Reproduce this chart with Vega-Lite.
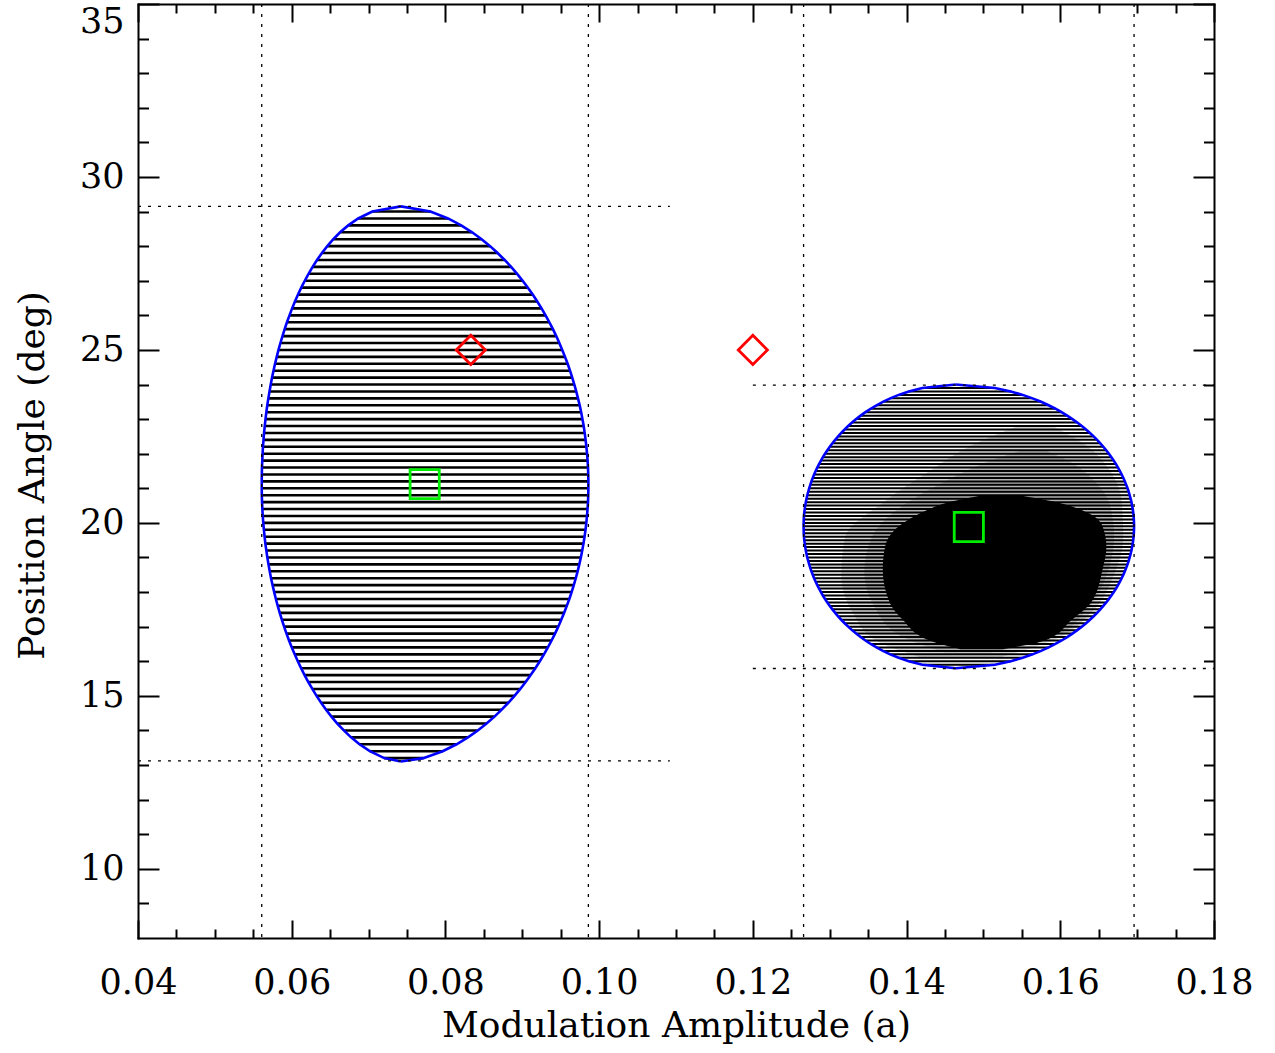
{
  "$schema": "https://vega.github.io/schema/vega-lite/v6.json",
  "width": 1076,
  "height": 934,
  "autosize": {"type": "none"},
  "padding": {"left": 138, "top": 4, "right": 61, "bottom": 115},
  "background": "white",
  "config": {
    "view": {"stroke": null},
    "axis": {
      "grid": false,
      "labelFont": "DejaVu Serif",
      "titleFont": "DejaVu Serif",
      "labelColor": "black",
      "titleColor": "black",
      "tickColor": "black",
      "domainColor": "black",
      "tickWidth": 2,
      "domainWidth": 2,
      "labelFontSize": 35,
      "titleFontSize": 36,
      "titleFontWeight": "normal",
      "labelOverlap": false
    }
  },
  "datasets": {
    "h": [
      {"e":1,"y":13.1,"xl":0.0742,"xr":0.0742},
      {"e":1,"y":13.2,"xl":0.07204,"xr":0.07712},
      {"e":1,"y":13.4,"xl":0.07016,"xr":0.07964},
      {"e":1,"y":13.6,"xl":0.06882,"xr":0.08145},
      {"e":1,"y":13.8,"xl":0.06772,"xr":0.08293},
      {"e":1,"y":14.0,"xl":0.06678,"xr":0.08421},
      {"e":1,"y":14.2,"xl":0.06593,"xr":0.08535},
      {"e":1,"y":14.4,"xl":0.06517,"xr":0.08638},
      {"e":1,"y":14.6,"xl":0.06447,"xr":0.08732},
      {"e":1,"y":14.8,"xl":0.06383,"xr":0.08818},
      {"e":1,"y":15.0,"xl":0.06323,"xr":0.08899},
      {"e":1,"y":15.2,"xl":0.06268,"xr":0.08974},
      {"e":1,"y":15.4,"xl":0.06216,"xr":0.09044},
      {"e":1,"y":15.6,"xl":0.06167,"xr":0.09109},
      {"e":1,"y":15.8,"xl":0.06122,"xr":0.0917},
      {"e":1,"y":16.0,"xl":0.06079,"xr":0.09228},
      {"e":1,"y":16.2,"xl":0.06039,"xr":0.09282},
      {"e":1,"y":16.4,"xl":0.06001,"xr":0.09333},
      {"e":1,"y":16.6,"xl":0.05965,"xr":0.09381},
      {"e":1,"y":16.8,"xl":0.05932,"xr":0.09426},
      {"e":1,"y":17.0,"xl":0.05901,"xr":0.09468},
      {"e":1,"y":17.2,"xl":0.05872,"xr":0.09507},
      {"e":1,"y":17.4,"xl":0.05844,"xr":0.09545},
      {"e":1,"y":17.6,"xl":0.05818,"xr":0.09579},
      {"e":1,"y":17.8,"xl":0.05794,"xr":0.09612},
      {"e":1,"y":18.0,"xl":0.05772,"xr":0.09642},
      {"e":1,"y":18.2,"xl":0.05751,"xr":0.0967},
      {"e":1,"y":18.4,"xl":0.05731,"xr":0.09696},
      {"e":1,"y":18.6,"xl":0.05714,"xr":0.0972},
      {"e":1,"y":18.8,"xl":0.05698,"xr":0.09742},
      {"e":1,"y":19.0,"xl":0.05683,"xr":0.09762},
      {"e":1,"y":19.2,"xl":0.0567,"xr":0.0978},
      {"e":1,"y":19.4,"xl":0.05657,"xr":0.09796},
      {"e":1,"y":19.6,"xl":0.05647,"xr":0.0981},
      {"e":1,"y":19.8,"xl":0.05638,"xr":0.09823},
      {"e":1,"y":20.0,"xl":0.0563,"xr":0.09833},
      {"e":1,"y":20.2,"xl":0.05623,"xr":0.09842},
      {"e":1,"y":20.4,"xl":0.05618,"xr":0.09849},
      {"e":1,"y":20.6,"xl":0.05614,"xr":0.09855},
      {"e":1,"y":20.8,"xl":0.05611,"xr":0.09858},
      {"e":1,"y":21.0,"xl":0.0561,"xr":0.0986},
      {"e":1,"y":21.2,"xl":0.0561,"xr":0.0986},
      {"e":1,"y":21.4,"xl":0.05611,"xr":0.09858},
      {"e":1,"y":21.6,"xl":0.05613,"xr":0.09855},
      {"e":1,"y":21.8,"xl":0.05617,"xr":0.0985},
      {"e":1,"y":22.0,"xl":0.05621,"xr":0.09843},
      {"e":1,"y":22.2,"xl":0.05626,"xr":0.09834},
      {"e":1,"y":22.4,"xl":0.05633,"xr":0.09824},
      {"e":1,"y":22.6,"xl":0.0564,"xr":0.09812},
      {"e":1,"y":22.8,"xl":0.05649,"xr":0.09799},
      {"e":1,"y":23.0,"xl":0.05659,"xr":0.09783},
      {"e":1,"y":23.2,"xl":0.0567,"xr":0.09766},
      {"e":1,"y":23.4,"xl":0.05682,"xr":0.09747},
      {"e":1,"y":23.6,"xl":0.05696,"xr":0.09725},
      {"e":1,"y":23.8,"xl":0.05711,"xr":0.09702},
      {"e":1,"y":24.0,"xl":0.05727,"xr":0.09677},
      {"e":1,"y":24.2,"xl":0.05744,"xr":0.0965},
      {"e":1,"y":24.4,"xl":0.05763,"xr":0.09621},
      {"e":1,"y":24.6,"xl":0.05783,"xr":0.0959},
      {"e":1,"y":24.8,"xl":0.05805,"xr":0.09556},
      {"e":1,"y":25.0,"xl":0.05828,"xr":0.0952},
      {"e":1,"y":25.2,"xl":0.05853,"xr":0.09482},
      {"e":1,"y":25.4,"xl":0.0588,"xr":0.09442},
      {"e":1,"y":25.6,"xl":0.05908,"xr":0.09399},
      {"e":1,"y":25.8,"xl":0.05938,"xr":0.09352},
      {"e":1,"y":26.0,"xl":0.05971,"xr":0.09303},
      {"e":1,"y":26.2,"xl":0.06005,"xr":0.09251},
      {"e":1,"y":26.4,"xl":0.06042,"xr":0.09195},
      {"e":1,"y":26.6,"xl":0.06082,"xr":0.09136},
      {"e":1,"y":26.8,"xl":0.06124,"xr":0.09073},
      {"e":1,"y":27.0,"xl":0.0617,"xr":0.09005},
      {"e":1,"y":27.2,"xl":0.06219,"xr":0.08933},
      {"e":1,"y":27.4,"xl":0.06272,"xr":0.08855},
      {"e":1,"y":27.6,"xl":0.06329,"xr":0.08771},
      {"e":1,"y":27.8,"xl":0.06393,"xr":0.08679},
      {"e":1,"y":28.0,"xl":0.06463,"xr":0.08581},
      {"e":1,"y":28.2,"xl":0.06541,"xr":0.08471},
      {"e":1,"y":28.4,"xl":0.0663,"xr":0.08347},
      {"e":1,"y":28.6,"xl":0.06735,"xr":0.08205},
      {"e":1,"y":28.8,"xl":0.06865,"xr":0.08034},
      {"e":1,"y":29.0,"xl":0.07049,"xr":0.07805},
      {"e":1,"y":29.15,"xl":0.0742,"xr":0.0742},

      {"e":2,"y":15.8,"xl":0.1464,"xr":0.1464},
      {"e":2,"y":15.9,"xl":0.14205,"xr":0.15149},
      {"e":2,"y":16.0,"xl":0.14029,"xr":0.15356},
      {"e":2,"y":16.1,"xl":0.13897,"xr":0.15511},
      {"e":2,"y":16.2,"xl":0.13787,"xr":0.15639},
      {"e":2,"y":16.3,"xl":0.13692,"xr":0.1575},
      {"e":2,"y":16.4,"xl":0.13609,"xr":0.15848},
      {"e":2,"y":16.5,"xl":0.13533,"xr":0.15937},
      {"e":2,"y":16.6,"xl":0.13465,"xr":0.16017},
      {"e":2,"y":16.7,"xl":0.13402,"xr":0.1609},
      {"e":2,"y":16.8,"xl":0.13344,"xr":0.16158},
      {"e":2,"y":16.9,"xl":0.1329,"xr":0.16221},
      {"e":2,"y":17.0,"xl":0.1324,"xr":0.1628},
      {"e":2,"y":17.1,"xl":0.13194,"xr":0.16335},
      {"e":2,"y":17.2,"xl":0.1315,"xr":0.16386},
      {"e":2,"y":17.3,"xl":0.13109,"xr":0.16434},
      {"e":2,"y":17.4,"xl":0.13071,"xr":0.16479},
      {"e":2,"y":17.5,"xl":0.13035,"xr":0.16521},
      {"e":2,"y":17.6,"xl":0.13001,"xr":0.1656},
      {"e":2,"y":17.7,"xl":0.12969,"xr":0.16598},
      {"e":2,"y":17.8,"xl":0.12939,"xr":0.16633},
      {"e":2,"y":17.9,"xl":0.12911,"xr":0.16665},
      {"e":2,"y":18.0,"xl":0.12886,"xr":0.16696},
      {"e":2,"y":18.1,"xl":0.12861,"xr":0.16725},
      {"e":2,"y":18.2,"xl":0.12838,"xr":0.16751},
      {"e":2,"y":18.3,"xl":0.12817,"xr":0.16776},
      {"e":2,"y":18.4,"xl":0.12797,"xr":0.16799},
      {"e":2,"y":18.5,"xl":0.12779,"xr":0.16821},
      {"e":2,"y":18.6,"xl":0.12762,"xr":0.1684},
      {"e":2,"y":18.7,"xl":0.12747,"xr":0.16858},
      {"e":2,"y":18.8,"xl":0.12733,"xr":0.16875},
      {"e":2,"y":18.9,"xl":0.1272,"xr":0.1689},
      {"e":2,"y":19.0,"xl":0.12708,"xr":0.16903},
      {"e":2,"y":19.1,"xl":0.12698,"xr":0.16915},
      {"e":2,"y":19.2,"xl":0.12689,"xr":0.16926},
      {"e":2,"y":19.3,"xl":0.12681,"xr":0.16935},
      {"e":2,"y":19.4,"xl":0.12675,"xr":0.16943},
      {"e":2,"y":19.5,"xl":0.12669,"xr":0.16949},
      {"e":2,"y":19.6,"xl":0.12665,"xr":0.16954},
      {"e":2,"y":19.7,"xl":0.12662,"xr":0.16957},
      {"e":2,"y":19.8,"xl":0.12661,"xr":0.16959},
      {"e":2,"y":19.9,"xl":0.1266,"xr":0.1696},
      {"e":2,"y":20.0,"xl":0.12661,"xr":0.16959},
      {"e":2,"y":20.1,"xl":0.12662,"xr":0.16957},
      {"e":2,"y":20.2,"xl":0.12665,"xr":0.16954},
      {"e":2,"y":20.3,"xl":0.12669,"xr":0.16949},
      {"e":2,"y":20.4,"xl":0.12675,"xr":0.16943},
      {"e":2,"y":20.5,"xl":0.12681,"xr":0.16935},
      {"e":2,"y":20.6,"xl":0.12689,"xr":0.16926},
      {"e":2,"y":20.7,"xl":0.12698,"xr":0.16915},
      {"e":2,"y":20.8,"xl":0.12708,"xr":0.16903},
      {"e":2,"y":20.9,"xl":0.1272,"xr":0.1689},
      {"e":2,"y":21.0,"xl":0.12733,"xr":0.16875},
      {"e":2,"y":21.1,"xl":0.12747,"xr":0.16858},
      {"e":2,"y":21.2,"xl":0.12762,"xr":0.1684},
      {"e":2,"y":21.3,"xl":0.12779,"xr":0.16821},
      {"e":2,"y":21.4,"xl":0.12797,"xr":0.16799},
      {"e":2,"y":21.5,"xl":0.12817,"xr":0.16776},
      {"e":2,"y":21.6,"xl":0.12838,"xr":0.16751},
      {"e":2,"y":21.7,"xl":0.12861,"xr":0.16725},
      {"e":2,"y":21.8,"xl":0.12886,"xr":0.16696},
      {"e":2,"y":21.9,"xl":0.12911,"xr":0.16665},
      {"e":2,"y":22.0,"xl":0.12939,"xr":0.16633},
      {"e":2,"y":22.1,"xl":0.12969,"xr":0.16598},
      {"e":2,"y":22.2,"xl":0.13001,"xr":0.1656},
      {"e":2,"y":22.3,"xl":0.13035,"xr":0.16521},
      {"e":2,"y":22.4,"xl":0.13071,"xr":0.16479},
      {"e":2,"y":22.5,"xl":0.13109,"xr":0.16434},
      {"e":2,"y":22.6,"xl":0.1315,"xr":0.16386},
      {"e":2,"y":22.7,"xl":0.13194,"xr":0.16335},
      {"e":2,"y":22.8,"xl":0.1324,"xr":0.1628},
      {"e":2,"y":22.9,"xl":0.1329,"xr":0.16221},
      {"e":2,"y":23.0,"xl":0.13344,"xr":0.16158},
      {"e":2,"y":23.1,"xl":0.13402,"xr":0.1609},
      {"e":2,"y":23.2,"xl":0.13465,"xr":0.16017},
      {"e":2,"y":23.3,"xl":0.13533,"xr":0.15937},
      {"e":2,"y":23.4,"xl":0.13609,"xr":0.15848},
      {"e":2,"y":23.5,"xl":0.13692,"xr":0.1575},
      {"e":2,"y":23.6,"xl":0.13787,"xr":0.15639},
      {"e":2,"y":23.7,"xl":0.13897,"xr":0.15511},
      {"e":2,"y":23.8,"xl":0.14029,"xr":0.15356},
      {"e":2,"y":23.9,"xl":0.14205,"xr":0.15149},
      {"e":2,"y":24.0,"xl":0.1464,"xr":0.1464}
    ],
    "shade": [
      {"z":"b","y":16.1,"xl":0.142,"xr":0.152},
      {"z":"b","y":16.6,"xl":0.136,"xr":0.159},
      {"z":"b","y":17.4,"xl":0.133,"xr":0.164},
      {"z":"b","y":18.5,"xl":0.1315,"xr":0.167},
      {"z":"b","y":19.6,"xl":0.132,"xr":0.1682},
      {"z":"b","y":20.6,"xl":0.137,"xr":0.168},
      {"z":"b","y":21.5,"xl":0.143,"xr":0.1665},
      {"z":"b","y":22.3,"xl":0.149,"xr":0.163},
      {"z":"b","y":22.8,"xl":0.1545,"xr":0.159},
      {"z":"c","y":16.25,"xl":0.145,"xr":0.151},
      {"z":"c","y":16.7,"xl":0.1395,"xr":0.159},
      {"z":"c","y":17.5,"xl":0.136,"xr":0.1635},
      {"z":"c","y":18.6,"xl":0.1345,"xr":0.1662},
      {"z":"c","y":19.6,"xl":0.1355,"xr":0.167},
      {"z":"c","y":20.5,"xl":0.1395,"xr":0.1665},
      {"z":"c","y":21.2,"xl":0.145,"xr":0.1645},
      {"z":"c","y":21.8,"xl":0.151,"xr":0.161},
      {"z":"c","y":22.1,"xl":0.155,"xr":0.158}
    ],
    "core": [
      {"y":16.35,"xl":0.147,"xr":0.1525},
      {"y":16.6,"xl":0.143,"xr":0.158},
      {"y":17.2,"xl":0.1395,"xr":0.1615},
      {"y":17.7,"xl":0.1378,"xr":0.164},
      {"y":18.65,"xl":0.1369,"xr":0.1655},
      {"y":19.3,"xl":0.1372,"xr":0.166},
      {"y":19.9,"xl":0.139,"xr":0.1655},
      {"y":20.3,"xl":0.142,"xr":0.1635},
      {"y":20.6,"xl":0.1455,"xr":0.1595},
      {"y":20.8,"xl":0.15,"xr":0.1545}
    ],
    "vl": [{"x":0.0561},{"x":0.0986},{"x":0.1266},{"x":0.1696}],
    "hl": [
      {"y":29.15,"xa":0.04,"xb":0.1092},
      {"y":13.12,"xa":0.04,"xb":0.1092},
      {"y":23.98,"xa":0.12,"xb":0.18},
      {"y":15.79,"xa":0.12,"xb":0.18}
    ],
    "pts": [
      {"k":"d","x":0.0833,"y":25.0},
      {"k":"d","x":0.12,"y":25.0},
      {"k":"s","x":0.0773,"y":21.12},
      {"k":"s","x":0.1481,"y":19.88}
    ]
  },
  "resolve": {"axis": {"x": "independent", "y": "independent"}},
  "layer": [
    {
      "data": {"name": "h"},
      "transform": [{"filter": "datum.e == 1"}],
      "mark": {"type": "rule", "color": "black", "strokeWidth": 2.6},
      "encoding": {
        "y": {"field": "y", "type": "quantitative", "scale": {"domain": [8, 35], "nice": false, "zero": false},
          "axis": {"orient": "left", "values": [10, 15, 20, 25, 30, 35], "ticks": false, "domain": true, "domainCap": "square",
            "labelFlush": true, "labelPadding": 14, "labelAlign": "right",
            "title": "Position Angle (deg)", "titleAngle": -90, "titleX": -95, "titleY": 471, "titleBaseline": "alphabetic", "titleAlign": "center"}},
        "x": {"field": "xl", "type": "quantitative", "scale": {"domain": [0.04, 0.18], "nice": false, "zero": false},
          "axis": {"orient": "bottom", "values": [0.04, 0.06, 0.08, 0.1, 0.12, 0.14, 0.16, 0.18], "format": ".2f", "ticks": false,
            "domain": true, "domainCap": "square", "labelFlush": false, "labelPadding": 55, "labelBaseline": "alphabetic",
            "title": "Modulation Amplitude (a)", "titleX": 538, "titleY": 98, "titleBaseline": "alphabetic", "titleAlign": "center"}},
        "x2": {"field": "xr"}
      }
    },
    {
      "data": {"name": "h"},
      "transform": [{"filter": "datum.e == 2"}],
      "mark": {"type": "rule", "color": "black", "strokeWidth": 2.0},
      "encoding": {
        "y": {"field": "y", "type": "quantitative", "scale": {"domain": [8, 35], "nice": false, "zero": false},
          "axis": {"orient": "left", "values": [10, 15, 20, 25, 30, 35], "labels": false, "domain": false, "ticks": true, "tickSize": -21, "title": null}},
        "x": {"field": "xl", "type": "quantitative", "scale": {"domain": [0.04, 0.18], "nice": false, "zero": false},
          "axis": {"orient": "bottom", "values": [0.04, 0.06, 0.08, 0.1, 0.12, 0.14, 0.16, 0.18], "labels": false, "domain": false, "ticks": true, "tickSize": -18, "title": null}},
        "x2": {"field": "xr"}
      }
    },
    {
      "data": {"name": "shade"},
      "mark": {"type": "area", "orient": "horizontal", "color": "black", "opacity": 0.16, "interpolate": "monotone"},
      "encoding": {
        "y": {"field": "y", "type": "quantitative", "scale": {"domain": [8, 35], "nice": false, "zero": false}, "axis": null},
        "x": {"field": "xl", "type": "quantitative", "scale": {"domain": [0.04, 0.18], "nice": false, "zero": false}, "axis": null},
        "x2": {"field": "xr"},
        "detail": {"field": "z", "type": "nominal"}
      }
    },
    {
      "data": {"name": "core"},
      "mark": {"type": "area", "orient": "horizontal", "color": "black", "interpolate": "monotone"},
      "encoding": {
        "y": {"field": "y", "type": "quantitative", "scale": {"domain": [8, 35], "nice": false, "zero": false},
          "axis": {"orient": "left", "values": [9, 11, 12, 13, 14, 16, 17, 18, 19, 21, 22, 23, 24, 26, 27, 28, 29, 31, 32, 33, 34], "labels": false, "domain": false, "ticks": true, "tickSize": -10.5, "title": null}},
        "x": {"field": "xl", "type": "quantitative", "scale": {"domain": [0.04, 0.18], "nice": false, "zero": false},
          "axis": {"orient": "bottom", "values": [0.045, 0.05, 0.055, 0.065, 0.07, 0.075, 0.085, 0.09, 0.095, 0.105, 0.11, 0.115, 0.125, 0.13, 0.135, 0.145, 0.15, 0.155, 0.165, 0.17, 0.175], "labels": false, "domain": false, "ticks": true, "tickSize": -9, "title": null}},
        "x2": {"field": "xr"}
      }
    },
    {
      "data": {"name": "h"},
      "transform": [{"fold": ["xl", "xr"], "as": ["side", "xv"]}],
      "mark": {"type": "line", "color": "#0000ff", "strokeWidth": 2.6},
      "encoding": {
        "y": {"field": "y", "type": "quantitative", "scale": {"domain": [8, 35], "nice": false, "zero": false},
          "axis": {"orient": "right", "values": [10, 15, 20, 25, 30, 35], "labels": false, "domain": true, "domainCap": "square", "ticks": true, "tickSize": -21, "title": null}},
        "x": {"field": "xv", "type": "quantitative", "scale": {"domain": [0.04, 0.18], "nice": false, "zero": false},
          "axis": {"orient": "top", "values": [0.04, 0.06, 0.08, 0.1, 0.12, 0.14, 0.16, 0.18], "labels": false, "domain": true, "domainCap": "square", "ticks": true, "tickSize": -18, "title": null}},
        "detail": [{"field": "e", "type": "nominal"}, {"field": "side", "type": "nominal"}],
        "order": {"field": "y", "type": "quantitative"}
      }
    },
    {
      "data": {"name": "vl"},
      "mark": {"type": "rule", "color": "black", "strokeWidth": 1.3, "strokeDash": [3, 7]},
      "encoding": {
        "x": {"field": "x", "type": "quantitative", "scale": {"domain": [0.04, 0.18], "nice": false, "zero": false},
          "axis": {"orient": "top", "values": [0.045, 0.05, 0.055, 0.065, 0.07, 0.075, 0.085, 0.09, 0.095, 0.105, 0.11, 0.115, 0.125, 0.13, 0.135, 0.145, 0.15, 0.155, 0.165, 0.17, 0.175], "labels": false, "domain": false, "ticks": true, "tickSize": -9, "title": null}}
      }
    },
    {
      "data": {"name": "hl"},
      "mark": {"type": "rule", "color": "black", "strokeWidth": 1.3, "strokeDash": [3, 7]},
      "encoding": {
        "y": {"field": "y", "type": "quantitative", "scale": {"domain": [8, 35], "nice": false, "zero": false},
          "axis": {"orient": "right", "values": [9, 11, 12, 13, 14, 16, 17, 18, 19, 21, 22, 23, 24, 26, 27, 28, 29, 31, 32, 33, 34], "labels": false, "domain": false, "ticks": true, "tickSize": -10.5, "title": null}},
        "x": {"field": "xa", "type": "quantitative", "scale": {"domain": [0.04, 0.18], "nice": false, "zero": false}, "axis": null},
        "x2": {"field": "xb"}
      }
    },
    {
      "data": {"name": "pts"},
      "transform": [{"filter": "datum.k == 'd'"}],
      "mark": {"type": "point", "shape": "diamond", "filled": false, "color": "#ff0000", "strokeWidth": 2.8, "size": 850, "opacity": 1},
      "encoding": {
        "x": {"field": "x", "type": "quantitative", "scale": {"domain": [0.04, 0.18], "nice": false, "zero": false}, "axis": null},
        "y": {"field": "y", "type": "quantitative", "scale": {"domain": [8, 35], "nice": false, "zero": false}, "axis": null}
      }
    },
    {
      "data": {"name": "pts"},
      "transform": [{"filter": "datum.k == 's'"}],
      "mark": {"type": "point", "shape": "square", "filled": false, "color": "#00ee00", "strokeWidth": 2.8, "size": 850, "opacity": 1},
      "encoding": {
        "x": {"field": "x", "type": "quantitative", "scale": {"domain": [0.04, 0.18], "nice": false, "zero": false}, "axis": null},
        "y": {"field": "y", "type": "quantitative", "scale": {"domain": [8, 35], "nice": false, "zero": false}, "axis": null}
      }
    }
  ]
}
